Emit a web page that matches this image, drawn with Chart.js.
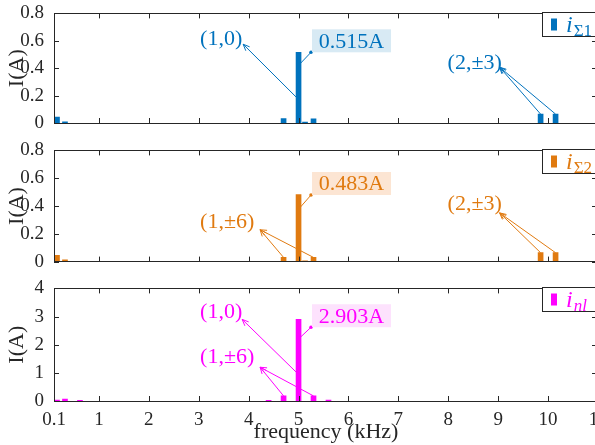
<!DOCTYPE html>
<html><head><meta charset="utf-8">
<script src="https://cdn.jsdelivr.net/npm/chart.js@4.4.1/dist/chart.umd.min.js"></script>
<style>
html,body{margin:0;padding:0;background:#fff;overflow:hidden;width:595px;height:445px}
#wrap{position:relative;width:610px;height:445px;overflow:hidden}
canvas{position:absolute;left:0}
</style></head><body>
<div id="wrap">
<canvas id="c1" width="610" height="137" style="top:0px;width:610px;height:137px"></canvas>
<canvas id="c2" width="610" height="138" style="top:137px;width:610px;height:138px"></canvas>
<canvas id="c3" width="610" height="170" style="top:275px;width:610px;height:170px"></canvas>
</div>
<script>
// ---- data (frequency in kHz, amplitude in A) ----
const freq1 = [0.16, 0.32, 4.7, 5.0, 5.13, 5.3, 9.85, 10.15];
const amp1  = [0.044, 0.008, 0.033, 0.515, 0.006, 0.03, 0.065, 0.065];
const freq2 = [0.16, 0.32, 4.7, 5.0, 5.13, 5.3, 9.85, 10.15];
const amp2  = [0.045, 0.012, 0.03, 0.483, 0.005, 0.03, 0.064, 0.064];
const freq3 = [0.16, 0.32, 0.62, 4.4, 4.7, 5.0, 5.3, 5.6];
const amp3  = [0.03, 0.07, 0.02, 0.02, 0.18, 2.903, 0.18, 0.03];
const xTickValues = [0.1, 1, 2, 3, 4, 5, 6, 7, 8, 9, 10, 11];
const yTicksSmall = [0, 0.2, 0.4, 0.6, 0.8];
const yTicksBig   = [0, 1, 2, 3, 4];
const seriesMain = ['i', 'i', 'i'];
const seriesSub  = ['\u03A31', '\u03A32', 'nl'];
const xTitle = 'frequency (kHz)';
const yTitle = 'I(A)';

const ink = '#262626';
const serif = "'Liberation Serif', 'Times New Roman', serif";
const colors = ['#0072BD', '#E07A10', '#FF00FF'];
const boxFills = ['#D8EAF4', '#FCE5D3', '#FDE2FD'];

function drawArrow(ctx, x1, y1, x2, y2) {
  ctx.beginPath(); ctx.moveTo(x1, y1); ctx.lineTo(x2, y2); ctx.stroke();
  const ang = Math.atan2(y2 - y1, x2 - x1), L = 7, w = 0.4;
  ctx.beginPath();
  ctx.moveTo(x2 - L * Math.cos(ang - w), y2 - L * Math.sin(ang - w));
  ctx.lineTo(x2, y2);
  ctx.lineTo(x2 - L * Math.cos(ang + w), y2 - L * Math.sin(ang + w));
  ctx.stroke();
}

const decorPlugin = {
  id: 'decor',
  afterDatasetsDraw(chart, args, o) {
    const {ctx, chartArea: a, scales: {x, y}} = chart;
    const P = (pt) => [x.getPixelForValue(pt[0]), y.getPixelForValue(pt[1])];
    ctx.save();
    // frame + inward ticks
    ctx.strokeStyle = ink; ctx.lineWidth = 1;
    ctx.beginPath();
    xTickValues.forEach(v => {
      const px = Math.round(x.getPixelForValue(v)) + 0.5;
      ctx.moveTo(px, a.bottom); ctx.lineTo(px, a.bottom - 5);
      ctx.moveTo(px, a.top); ctx.lineTo(px, a.top + 5);
    });
    y.ticks.forEach(t => {
      const py = Math.round(y.getPixelForValue(t.value)) + 0.5;
      ctx.moveTo(a.left, py); ctx.lineTo(a.left + 5, py);
      ctx.moveTo(a.right, py); ctx.lineTo(a.right - 6, py);
    });
    ctx.stroke();
    ctx.strokeRect(Math.round(a.left) + 0.5, Math.round(a.top) + 0.5, Math.round(a.right - a.left), Math.round(a.bottom - a.top));

    // annotations
    const c = o.color;
    ctx.strokeStyle = c; ctx.fillStyle = c; ctx.lineWidth = 1;
    ctx.font = '22px ' + serif; ctx.textAlign = 'center'; ctx.textBaseline = 'middle';
    (o.labels || []).forEach(l => {
      const [tx, ty] = P(l.at);
      ctx.fillStyle = c; ctx.fillText(l.text, tx, ty);
      const [hx, hy] = P(l.head);
      l.tails.forEach(t => { const [sx, sy] = P(t); drawArrow(ctx, sx, sy, hx, hy); });
    });
    if (o.value) {
      const v = o.value;
      const [sx, sy] = P(v.from), [ex, ey] = P(v.to);
      ctx.beginPath(); ctx.moveTo(sx, sy); ctx.lineTo(ex, ey); ctx.stroke();
      ctx.beginPath(); ctx.arc(ex, ey, 1.8, 0, Math.PI * 2); ctx.fill();
      const bw = 79, bh = 23;
      ctx.fillStyle = o.fill; ctx.fillRect(ex + 1, ey - bh, bw, bh);
      ctx.fillStyle = c; ctx.fillText(v.text, ex + 1 + bw / 2, ey - bh / 2 + 1);
    }

    // legend
    const lx = a.right - 56, ly = Math.round(a.top) - 0.5;
    ctx.fillStyle = '#fff'; ctx.fillRect(lx, ly, 80, 24);
    ctx.strokeStyle = ink; ctx.lineWidth = 1; ctx.strokeRect(Math.round(lx) + 0.5, ly, 80, 24);
    ctx.fillStyle = c; ctx.fillRect(Math.round(lx) + 9, ly + 6, 6, 12);
    ctx.textAlign = 'left'; ctx.textBaseline = 'alphabetic';
    ctx.font = 'italic 24px ' + serif;
    ctx.fillText(o.main, lx + 24, ly + 19);
    const w = ctx.measureText(o.main).width;
    ctx.font = (o.subItalic ? 'italic ' : '') + '17px ' + serif;
    ctx.fillText(o.sub, lx + 25 + w, ly + 23);
    ctx.restore();
  }
};

function makeChart(id, idx, freqs, amps, yMax, yTicks, showX, pad, deco) {
  const yTickVals = yTicks;
  return new Chart(document.getElementById(id), {
    type: 'bar',
    data: {
      datasets: [{
        label: seriesMain[idx] + seriesSub[idx],
        data: freqs.map((f, i) => ({x: f, y: amps[i]})),
        backgroundColor: colors[idx],
        borderWidth: 0,
        barThickness: 5
      }]
    },
    options: {
      responsive: false, animation: false, devicePixelRatio: 1,
      layout: {padding: pad},
      plugins: {legend: {display: false}, tooltip: {enabled: false},
        decor: Object.assign({color: colors[idx], fill: boxFills[idx], main: seriesMain[idx], sub: seriesSub[idx], subItalic: idx === 2}, deco)},
      scales: {
        x: {
          type: 'linear', min: 0.1, max: 11, offset: false,
          display: showX,
          grid: {display: false, offset: false}, border: {display: false},
          afterBuildTicks: s => { s.ticks = xTickValues.map(v => ({value: v})); },
          afterFit: s => { if (showX) s.height = 44; },
          ticks: {autoSkip: false, maxRotation: 0, padding: 0, color: ink,
            font: {family: serif, size: 19}, callback: v => String(v)},
          title: {display: showX, text: xTitle, color: ink, font: {family: serif, size: 22}, padding: {top: 0, bottom: 0}}
        },
        y: {
          min: 0, max: yMax,
          grid: {display: false}, border: {display: false},
          afterBuildTicks: s => { s.ticks = yTickVals.map(v => ({value: v})); },
          afterFit: s => { s.width = 54; },
          ticks: {padding: 2, color: ink, font: {family: serif, size: 19}, callback: v => String(v)},
          title: {display: true, text: yTitle, color: ink, font: {family: serif, size: 22}, padding: {top: 4, bottom: 0}}
        }
      }
    },
    plugins: [decorPlugin]
  });
}

makeChart('c1', 0, freq1, amp1, 0.8, yTicksSmall, false, {top: 13, bottom: 14, left: 0, right: 12}, {
  labels: [
    {text: '(1,0)', at: [3.45, 0.61], head: [3.89, 0.575], tails: [[4.95, 0.19]]},
    {text: '(2,\u00B13)', at: [8.53, 0.436], head: [9.03, 0.407], tails: [[9.85, 0.065], [10.15, 0.065]]}
  ],
  value: {text: '0.515A', from: [5.04, 0.436], to: [5.25, 0.516]}
});
makeChart('c2', 1, freq2, amp2, 0.8, yTicksSmall, false, {top: 13, bottom: 13, left: 0, right: 12}, {
  labels: [
    {text: '(1,\u00B16)', at: [3.57, 0.286], head: [4.23, 0.229], tails: [[4.7, 0.03], [5.3, 0.03]]},
    {text: '(2,\u00B13)', at: [8.53, 0.414], head: [9.03, 0.35], tails: [[9.85, 0.064], [10.15, 0.064]]}
  ],
  value: {text: '0.483A', from: [5.04, 0.393], to: [5.25, 0.479]}
});
makeChart('c3', 2, freq3, amp3, 4, yTicksBig, true, {top: 13, bottom: 0, left: 0, right: 12}, {
  labels: [
    {text: '(1,0)', at: [3.45, 3.15], head: [3.87, 2.9], tails: [[4.95, 1.03]]},
    {text: '(1,\u00B16)', at: [3.57, 1.56], head: [4.23, 1.2], tails: [[4.7, 0.18], [5.3, 0.18]]}
  ],
  value: {text: '2.903A', from: [5.04, 2.27], to: [5.25, 2.62]}
});
</script>
</body></html>
